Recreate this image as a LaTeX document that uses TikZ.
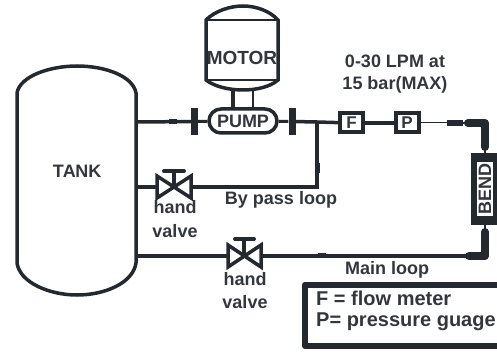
\documentclass[tikz,border=0pt]{standalone}
\usepackage{fontspec}
\setmainfont{Liberation Sans}
\definecolor{ink}{HTML}{23292F}
\definecolor{txt}{HTML}{33363D}
\tikzset{
  x=1pt,y=-1pt,
  pipe/.style={draw=ink,line width=3.5pt},
  thinpipe/.style={draw=ink,line width=1pt},
  fatpipe/.style={draw=ink,line width=8pt,line cap=round,line join=round},
  vessel/.style={draw=ink,line width=3.5pt,fill=white},
  lbl/.style={text=txt,font=\bfseries\fontsize{18}{18}\selectfont,inner sep=0pt},
  legendtxt/.style={text=txt,font=\bfseries\fontsize{20}{20}\selectfont,inner sep=0pt,anchor=west},
  instr/.style={draw=ink,line width=4pt,fill=white,minimum width=23pt,minimum height=19pt,inner sep=0pt,text=txt,font=\bfseries\fontsize{17}{17}\selectfont},
  flange/.style={fill=ink,draw=none,minimum width=7pt,minimum height=27pt,inner sep=0pt},
  valvebody/.style={draw=ink,line width=3.5pt,fill=white,line join=miter}
}
\begin{document}
\begin{tikzpicture}
\useasboundingbox (0,0) rectangle (497,352);
% Tank
\draw[vessel] (17,93) .. controls (20,76) and (50,66) .. (77,66) .. controls (105,66) and (133,76) .. (136,93) -- (136,263) .. controls (133,283) and (105,295) .. (77,295) .. controls (50,295) and (20,283) .. (17,263) -- cycle;
\node[lbl] (tank) at (77,171) {T\kern-1ptA\kern-.5ptNK};
\coordinate (tankA) at (137,122);
\coordinate (tankB) at (137,187);
\coordinate (tankC) at (137,256);
% Motor
\draw[vessel] (206,20) .. controls (215,11) and (230,6) .. (243,6) .. controls (256,6) and (270,11) .. (278,20) -- (278,80) .. controls (270,87) and (256,90) .. (243,90) .. controls (230,90) and (215,87) .. (206,80) -- cycle;
\draw[draw=ink,line width=2.5pt] (206,20) -- (278,20) (206,80) -- (278,80);
\node[lbl,font=\bfseries\fontsize{19}{19}\selectfont] (motor) at (242,58) {MOTOR};
% Shaft
\coordinate (motorL) at (233,90); \coordinate (motorR) at (253,90);
\coordinate (pumpL) at (233,109); \coordinate (pumpR) at (253,109);
\draw[draw=ink,line width=3.5pt] (motorL) -- (pumpL);
\draw[draw=ink,line width=2.5pt] (motorR) -- (pumpR);
% Pump
\node[draw=ink,line width=3.5pt,fill=white,rounded corners=12pt,minimum width=68pt,minimum height=24pt,inner sep=0pt,text=txt,font=\bfseries\fontsize{18}{18}\selectfont] (pump) at (243,121) {PUMP};
\node[flange] (fl1) at (194.5,121.5) {};
\node[flange] (fl2) at (292,121.5) {};
\draw[pipe,line width=3pt] (fl1) -- (pump);
\draw[pipe,line width=3pt] (pump) -- (fl2);
\draw[pipe] (tankA) -- (fl1);
\fill[ink] (169,119) rectangle (177,124);
% Instruments
\node[instr] (F) at (351.5,123) {F};
\node[instr] (P) at (407,123) {P};
\coordinate (tee) at (317,122);
\draw[pipe] (fl2) -- (tee) -- (F);
\draw[pipe] (F) -- (P);
\coordinate (thinEnd) at (447,123);
\coordinate (stubEnd) at (463,123);
\draw[thinpipe] (P) -- (thinEnd);
\draw[draw=ink,line width=6pt] (thinEnd) -- (stubEnd);
% Bend
\fill[ink] (471,153) rectangle (497,225);
\node[fill=white,minimum width=16pt,minimum height=54pt,inner sep=0pt,text=txt,font=\bfseries\fontsize{18}{18}\selectfont] (bend) at (485,189) {\rotatebox{90}{BEND}};
\coordinate (elbowT) at (485,123);
\coordinate (elbowB) at (485,256);
\coordinate (bendT) at (485,153);
\coordinate (bendB) at (485,225);
\draw[fatpipe] (468,123) -- (elbowT) -- (485,147);
\draw[draw=ink,line width=2pt] (463,123) -- (468,123) (485,147) -- (bendT);
\draw[fatpipe] (485,232) -- (elbowB) -- (469,256);
\draw[draw=ink,line width=2pt] (bendB) -- (485,232);
% Bypass valve
\coordinate (v1) at (174,187);
\draw[draw=ink,line width=3.5pt] (v1) -- (174,171);
\draw[draw=ink,line width=4pt,line cap=round] (164,171) -- (184,171);
\draw[valvebody] (157,176) -- (191,198) -- (191,176) -- (157,198) -- cycle;
\coordinate (v1L) at (157,187); \coordinate (v1R) at (191,187);
\draw[pipe] (tankB) -- (v1L);
\draw[pipe] (v1R) -- (317,187) -- (tee);
\fill[ink] (314.5,163) rectangle (319.5,173);
\node[lbl] (h1) at (175,207) {hand};
\node[lbl] (v1t) at (175,231) {valve};
\node[lbl] (by) at (281,200) {By pass loop};
% Main valve
\coordinate (v2) at (244,256);
\draw[draw=ink,line width=3.5pt] (v2) -- (244,239);
\draw[draw=ink,line width=4pt,line cap=round] (235,239) -- (254,239);
\draw[valvebody] (228,245) -- (261,267) -- (261,245) -- (228,267) -- cycle;
\coordinate (v2L) at (228,256); \coordinate (v2R) at (261,256);
\draw[pipe] (tankC) -- (v2L);
\draw[pipe] (v2R) -- (elbowB);
\fill[ink] (318,253.5) rectangle (326,258.5);
\node[lbl] (h2) at (245,279) {hand};
\node[lbl] (v2t) at (245,302) {valve};
\node[lbl] (main) at (387,270) {Main loop};
% Flow text
\node[lbl] (rate1) at (395,61) {0-30 LPM at};
\node[lbl] (rate2) at (395,85) {15 bar(MAX)};
% Legend
\draw[draw=ink,line width=6pt,line join=round] (497,284.5) -- (305,284.5) -- (305,346) -- (497,346);
\node[legendtxt] (lg1) at (316,298) {F = flow meter};
\node[legendtxt] (lg2) at (316,322) {P= pressure guage};
\end{tikzpicture}
\end{document}
